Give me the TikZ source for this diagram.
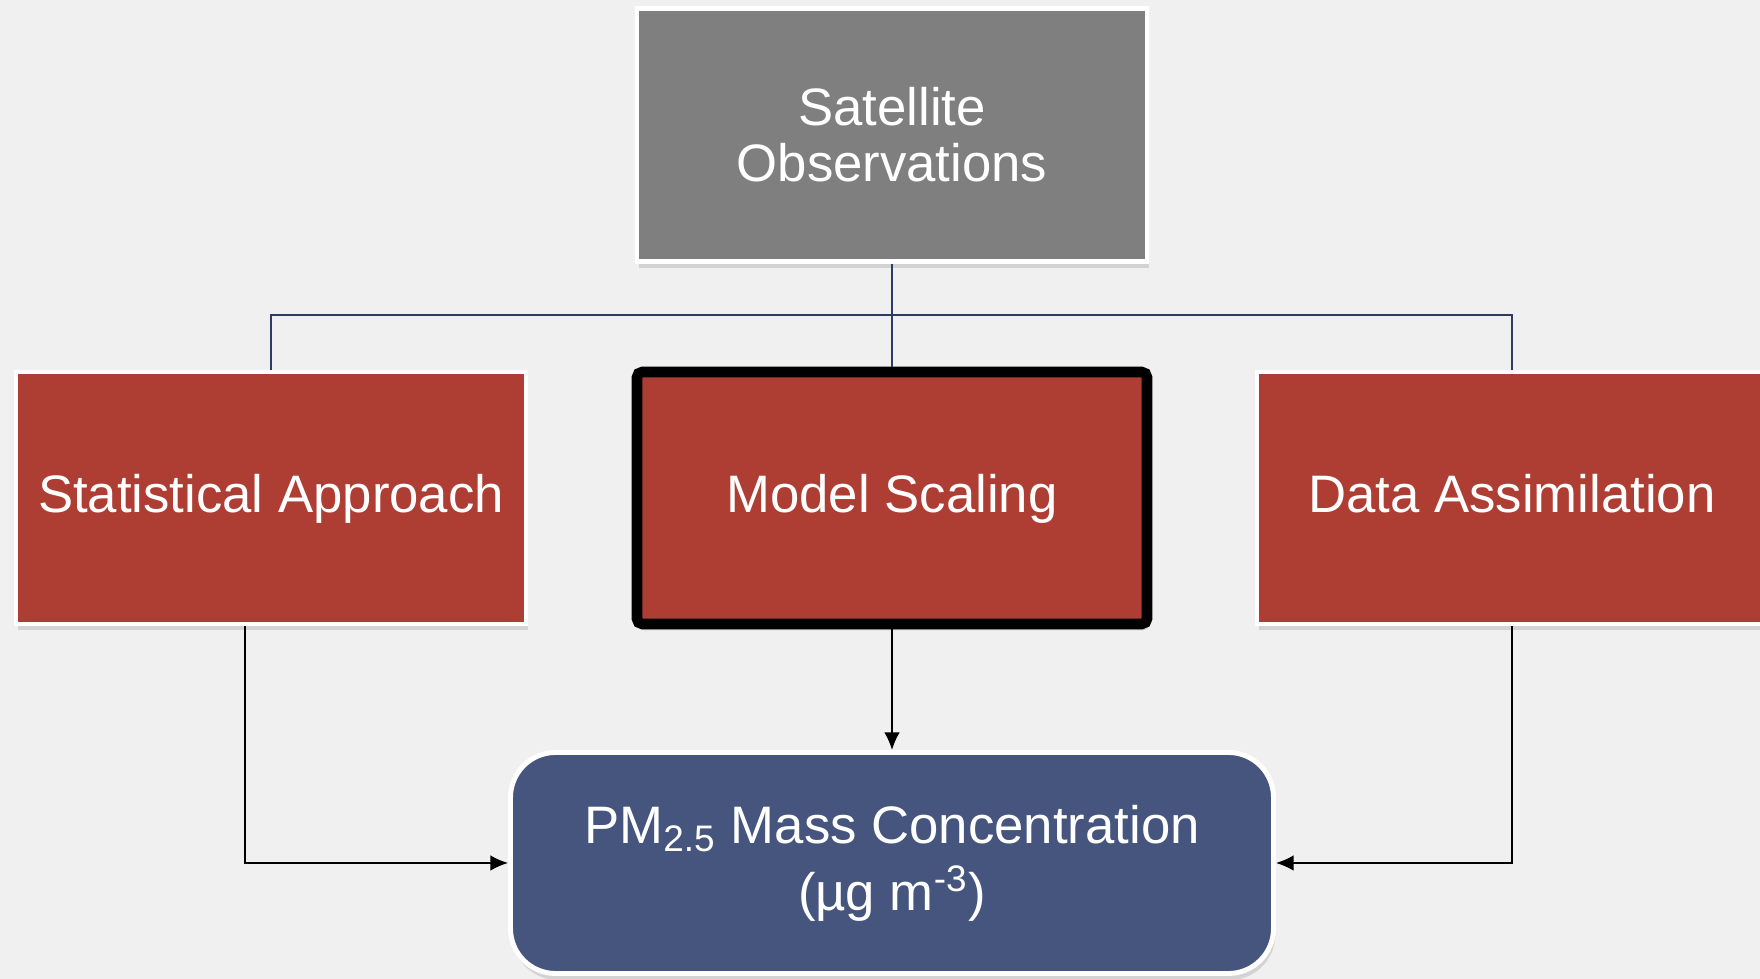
\documentclass[tikz,border=0pt]{standalone}
\usepackage{fontspec}
\setmainfont{Liberation Sans}
\usepackage{tikz}
\usetikzlibrary{arrows.meta}
\usetikzlibrary{shadows}
\definecolor{Page-Gray}{RGB}{240,240,240}
\definecolor{Sat-Gray}{RGB}{127,127,127}
\definecolor{Box-Red}{RGB}{174,62,51}
\definecolor{Out-Blue}{RGB}{70,85,125}
\definecolor{Bus-Navy}{RGB}{47,60,98}

\tikzset{
  box/.style={rectangle, draw=white, line width=1.4pt, minimum width=5.1cm, minimum height=2.52cm,
              text=white, align=center, font=\fontsize{15}{16}\selectfont,
              drop shadow={opacity=0.25, shadow xshift=0.5pt, shadow yshift=-1.8pt}},
  oneline/.style={text height=0.85em, text depth=0.05em},
  busline/.style={line width=0.6pt, draw=Bus-Navy},
  feed/.style={-{Latex[length=5pt,width=4.4pt]}, line width=0.45pt, draw=black}
}

\begin{document}
\begin{tikzpicture}
  \path[use as bounding box, fill=Page-Gray] (0,0) rectangle (17.6,9.79);

  \node[box, fill=Sat-Gray, minimum height=2.53cm                                ] (sat)   at ( 8.92, 8.44) {Satellite\\Observations};
  \node[box, oneline, fill=Box-Red                                               ] (stat)  at ( 2.71, 4.81) {Statistical Approach};
  \node[box, oneline, fill=Box-Red, draw=black, line width=3pt, rounded corners=1.5pt] (model) at ( 8.92, 4.81) {Model Scaling};
  \node[box, oneline, fill=Box-Red                                               ] (data)  at (15.12, 4.81) {Data Assimilation};
  \node[box, fill=Out-Blue, minimum width=7.63cm, minimum height=2.21cm, rounded corners=0.45cm,
        font=\fontsize{15}{18}\selectfont] (pm) at ( 8.92, 1.16) {PM\textsubscript{2.5} Mass Concentration\\[1pt](µg m\textsuperscript{-3})};

  \coordinate (split) at (8.92, 6.64);

  \draw[busline] (sat.south) -- (model.north);
  \draw[busline] (stat.north) |- (split) -| (data.north);

  \draw[feed] ([xshift=-0.26cm]stat.south) |- (pm.west);
  \draw[feed] (model.south) -- (pm.north);
  \draw[feed] (data.south) |- (pm.east);
\end{tikzpicture}
\end{document}
